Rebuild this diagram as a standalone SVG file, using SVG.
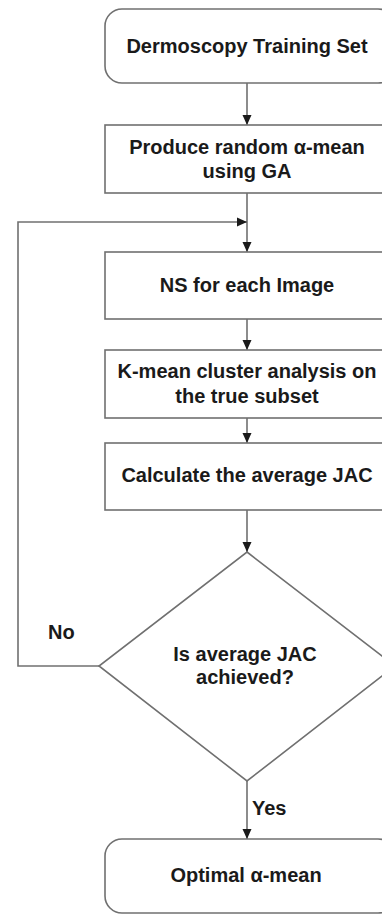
<svg xmlns="http://www.w3.org/2000/svg" width="382" height="915" viewBox="0 0 382 915">
<style>
.box{fill:#fff;stroke:#707070;stroke-width:1.6}
.t{font-family:"Liberation Sans",Arial,sans-serif;font-weight:bold;font-size:20px;fill:#1a1a1a;text-anchor:middle}
.l{font-family:"Liberation Sans",Arial,sans-serif;font-weight:bold;font-size:20px;fill:#1a1a1a}
.c{fill:none;stroke:#707070;stroke-width:1.6}
</style>
<defs>
<marker id="ah" markerWidth="10" markerHeight="10" viewBox="0 0 10 10" refX="10" refY="5" orient="auto" markerUnits="userSpaceOnUse">
<path d="M0,0.5 L10,5 L0,9.5 Z" fill="#1a1a1a"/>
</marker>
</defs>
<rect width="382" height="915" fill="#fff"/>
<g id="connectors">
<line class="c" x1="247" y1="83" x2="247" y2="125" marker-end="url(#ah)"/>
<line class="c" x1="247" y1="193" x2="247" y2="252" marker-end="url(#ah)"/>
<polyline class="c" points="99,666 18,666 18,222 247,222" marker-end="url(#ah)"/>
<line class="c" x1="247" y1="319" x2="247" y2="350" marker-end="url(#ah)"/>
<line class="c" x1="247" y1="418" x2="247" y2="443" marker-end="url(#ah)"/>
<line class="c" x1="247" y1="510" x2="247" y2="552" marker-end="url(#ah)"/>
<line class="c" x1="247" y1="781" x2="247" y2="839" marker-end="url(#ah)"/>
<text class="l" x="48" y="639">No</text>
<text class="l" x="252" y="815">Yes</text>
</g>
<g id="n1">
<rect class="box" x="105" y="9" width="290" height="74" rx="17"/>
<text class="t" x="247" y="53">Dermoscopy Training Set</text>
</g>
<g id="n2">
<rect class="box" x="105" y="125" width="290" height="68"/>
<text class="t" x="247" y="154">Produce random α-mean</text>
<text class="t" x="247" y="178">using GA</text>
</g>
<g id="n3">
<rect class="box" x="105" y="252" width="290" height="67"/>
<text class="t" x="247" y="292">NS for each Image</text>
</g>
<g id="n4">
<rect class="box" x="105" y="350" width="290" height="68"/>
<text class="t" x="247" y="378">K-mean cluster analysis on</text>
<text class="t" x="247" y="403">the true subset</text>
</g>
<g id="n5">
<rect class="box" x="105" y="443" width="290" height="67"/>
<text class="t" x="247" y="482">Calculate the average JAC</text>
</g>
<g id="n6">
<polygon class="box" points="247,552 395,666 247,781 99,666"/>
<text class="t" x="245" y="661">Is average JAC</text>
<text class="t" x="245" y="684">achieved?</text>
</g>
<g id="n7">
<rect class="box" x="105" y="839" width="290" height="74" rx="17"/>
<text class="t" x="246" y="882">Optimal α-mean</text>
</g>
</svg>
